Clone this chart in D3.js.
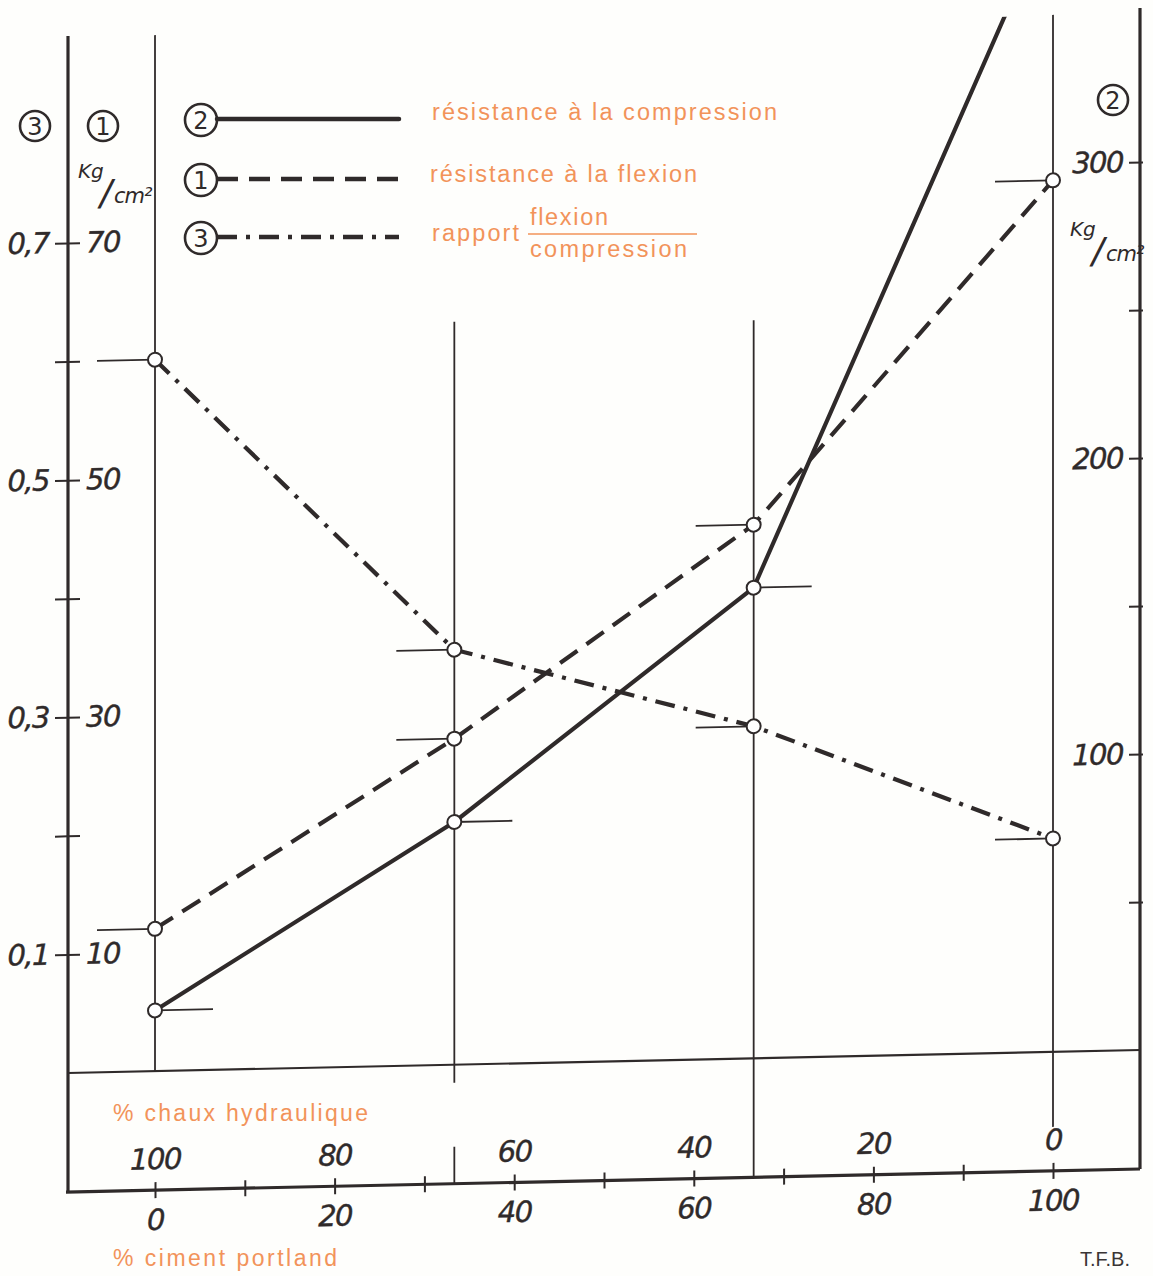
<!DOCTYPE html>
<html lang="fr">
<head>
<meta charset="UTF-8">
<title>Résistance compression / flexion</title>
<script src="https://d3js.org/d3.v7.min.js"></script>
<style>
  body { margin: 0; background: #fefefc; }
  svg { display: block; }
  .hand { font-family: "DejaVu Sans", sans-serif; font-style: italic; fill: #2f2a2a; }
  .orange { font-family: "Liberation Sans", Arial, sans-serif; fill: #f2935a; }
  .axis path, .axis line { stroke: #2f2a2a; }
</style>
</head>
<body>
<svg width="1153" height="1276"></svg>
<script>
// data (x = % ciment portland)
const ciment = [0, 100 / 3, 200 / 3, 100];
const flexion = [12, 27.5, 45, 73.5];          // kg/cm2, left scale
const compression = [20.5, 82, 159, 387];      // kg/cm2, right scale
const rapport = [0.60, 0.35, 0.28, 0.18];      // flexion / compression

const ratioTicks = [0.1, 0.2, 0.3, 0.4, 0.5, 0.6, 0.7];
const ratioLabels = [0.1, 0.3, 0.5, 0.7];
const kgLabels = [10, 30, 50, 70];
const compTicks = [50, 100, 150, 200, 250, 300];
const compLabels = [100, 200, 300];
const cimentTicks = d3.range(0, 101, 10);
const cimentLabels = [0, 20, 40, 60, 80, 100];

const legendNames = ["résistance à la compression", "résistance à la flexion", "rapport"];

const ink = "#2f2a2a";
const svg = d3.select("svg");
svg.append("rect").attr("width", 1153).attr("height", 1276).attr("fill", "#fefefc");

const x0 = 68, x1 = 1140, yZero = 1073, yAxisBottom = 1192;

const x = d3.scaleLinear().domain([0, 100]).range([155, 1053]);
const yKg = d3.scaleLinear().domain([0, 70]).range([yZero, 243]);
const yRatio = d3.scaleLinear().domain([0, 0.7]).range([yZero, 243]);
const yComp = d3.scaleLinear().domain([0, 300]).range([yZero, 185]);

// the scanned sheet is slightly sheared: horizontals drop to the left
const g = svg.append("g")
    .attr("transform", `translate(${x0},0) skewY(-1.229) translate(${-x0},0)`);

g.append("clipPath").attr("id", "clip")
  .append("rect").attr("x", 0).attr("y", 37).attr("width", 1153).attr("height", 1300);

// frame lines
const thin = 1.8;
g.append("line").attr("x1", x0).attr("x2", x1).attr("y1", yZero).attr("y2", yZero)
  .attr("stroke", ink).attr("stroke-width", 2.2);
g.append("line").attr("x1", x0).attr("x2", x0).attr("y1", 36).attr("y2", yAxisBottom)
  .attr("stroke", ink).attr("stroke-width", 3.2);
g.append("line").attr("x1", x1).attr("x2", x1).attr("y1", 31).attr("y2", yAxisBottom)
  .attr("stroke", ink).attr("stroke-width", 3.2);

// vertical guides at the test mixes
const guides = [[37, yZero], [330, 1091], [335, yAxisBottom], [36, 1148]];
ciment.forEach((c, i) => {
  g.append("line").attr("x1", x(c)).attr("x2", x(c))
    .attr("y1", guides[i][0]).attr("y2", guides[i][1])
    .attr("stroke", ink).attr("stroke-width", thin);
});
g.append("line").attr("x1", x(ciment[1])).attr("x2", x(ciment[1]))
  .attr("y1", 1155).attr("y2", yAxisBottom).attr("stroke", ink).attr("stroke-width", thin);

// left axis: ratio on the left side, kg/cm2 on the right side
const ratioAxis = g.append("g").attr("class", "axis").attr("transform", `translate(${x0},0)`)
  .call(d3.axisLeft(yRatio).tickValues(ratioTicks).tickSize(13).tickPadding(6)
    .tickFormat(d => ratioLabels.some(v => Math.abs(v - d) < 1e-6) ? d3.format(".1f")(d).replace(".", ",") : ""));
const kgAxis = g.append("g").attr("class", "axis").attr("transform", `translate(${x0},0)`)
  .call(d3.axisRight(yKg).tickValues(ratioTicks.map(d => Math.round(d * 100))).tickSize(12).tickPadding(6)
    .tickFormat(d => kgLabels.includes(d) ? d : ""));

// right axis: compression
const compAxis = g.append("g").attr("class", "axis").attr("transform", `translate(${x1},0)`)
  .call(d3.axisLeft(yComp).tickValues(compTicks).tickSize(11).tickPadding(6)
    .tickFormat(d => compLabels.includes(d) ? d : ""));
compAxis.selectAll(".tick line").attr("x1", 3);

// bottom axis: % ciment below, % chaux above
const bottomAxis = g.append("g").attr("class", "axis").attr("transform", `translate(0,${yAxisBottom})`)
  .call(d3.axisBottom(x).tickValues(cimentTicks).tickSize(8).tickPadding(11)
    .tickFormat(d => cimentLabels.includes(d) ? d : ""));
bottomAxis.selectAll(".tick line").attr("y1", -8);
const topAxis = g.append("g").attr("class", "axis").attr("transform", `translate(0,${yAxisBottom})`)
  .call(d3.axisTop(x).tickValues(cimentLabels).tickSize(0).tickPadding(21)
    .tickFormat(d => 100 - d));

[ratioAxis, kgAxis, compAxis, bottomAxis, topAxis].forEach(a => {
  a.select(".domain").remove();
  a.selectAll(".tick line").attr("stroke-width", 2);
  a.selectAll("text").attr("class", "hand").attr("font-size", 29).attr("fill", ink)
    .attr("letter-spacing", -1.5).attr("stroke", ink).attr("stroke-width", 0.4);
});
g.append("line").attr("x1", x0 - 2).attr("x2", x1).attr("y1", yAxisBottom).attr("y2", yAxisBottom)
  .attr("stroke", ink).attr("stroke-width", 3.2);

// series
const series = [
  { vals: compression, y: yComp, dash: null, side: 1, clip: true },
  { vals: flexion, y: yKg, dash: "21,11", side: -1 },
  { vals: rapport, y: yRatio, dash: "20,9,4,9", side: -1 }
];
const line = d3.line();

series.forEach(s => {
  const pts = s.vals.map((v, i) => [x(ciment[i]), s.y(v)]);
  // short horizontal reading marks
  g.selectAll(null).data(pts).join("line")
    .attr("x1", d => d[0]).attr("x2", d => d[0] + s.side * 58)
    .attr("y1", d => d[1]).attr("y2", d => d[1])
    .attr("stroke", ink).attr("stroke-width", thin);
  g.append("path").attr("d", line(pts))
    .attr("fill", "none").attr("stroke", ink).attr("stroke-width", 4.2)
    .attr("stroke-dasharray", s.dash)
    .attr("stroke-linecap", s.dash ? "butt" : "round")
    .attr("clip-path", s.clip ? "url(#clip)" : null);
});
series.forEach(s => {
  const pts = s.vals.map((v, i) => [x(ciment[i]), s.y(v)]).filter(d => d[1] > 37);
  g.selectAll(null).data(pts).join("circle")
    .attr("cx", d => d[0]).attr("cy", d => d[1]).attr("r", 7)
    .attr("fill", "#fff").attr("stroke", ink).attr("stroke-width", 2);
});

// axis captions
svg.append("text").attr("class", "orange").attr("x", 113).attr("y", 1121)
  .attr("font-size", 23).attr("textLength", 255).attr("lengthAdjust", "spacing")
  .text("% chaux hydraulique");
svg.append("text").attr("class", "orange").attr("x", 113).attr("y", 1266)
  .attr("font-size", 23).attr("textLength", 224).attr("lengthAdjust", "spacing")
  .text("% ciment portland");
svg.append("text").attr("x", 1080).attr("y", 1266)
  .attr("font-family", "Liberation Sans, Arial, sans-serif").attr("font-size", 20)
  .attr("fill", "#3a3535").text("T.F.B.");

// circled numbers
function badge(cx, cy, label, r = 15) {
  svg.append("circle").attr("cx", cx).attr("cy", cy).attr("r", r)
    .attr("fill", "none").attr("stroke", ink).attr("stroke-width", 2.6);
  svg.append("text").attr("x", cx).attr("y", cy + 8.5)
    .attr("font-family", "DejaVu Sans, sans-serif").attr("font-size", 24).attr("fill", ink)
    .attr("text-anchor", "middle").text(label);
}
badge(35, 126, "3");
badge(103, 126, "1");
badge(1113, 100, "2");

function unit(xp, yp) {
  svg.append("text").attr("class", "hand").attr("x", xp).attr("y", yp).attr("font-size", 20).text("Kg");
  svg.append("text").attr("class", "hand").attr("x", xp + 22).attr("y", yp + 27).attr("font-size", 36).text("/");
  svg.append("text").attr("class", "hand").attr("x", xp + 36).attr("y", yp + 25).attr("font-size", 21)
    .attr("letter-spacing", -1).text("cm²");
}
unit(78, 178);
unit(1070, 236);

// legend
const legendY = [120, 180, 238];
series.forEach((s, i) => {
  badge(201, legendY[i], ["2", "1", "3"][i], 16);
  svg.append("line").attr("x1", 217).attr("x2", 399)
    .attr("y1", legendY[i] - 1).attr("y2", legendY[i] - 1)
    .attr("stroke", ink).attr("stroke-width", 4.5)
    .attr("stroke-dasharray", s.dash).attr("stroke-linecap", s.dash ? "butt" : "round");
});
svg.append("text").attr("class", "orange").attr("x", 432).attr("y", 120)
  .attr("font-size", 23.5).attr("textLength", 345).attr("lengthAdjust", "spacing").text(legendNames[0]);
svg.append("text").attr("class", "orange").attr("x", 430).attr("y", 182)
  .attr("font-size", 23.5).attr("textLength", 267).attr("lengthAdjust", "spacing").text(legendNames[1]);
svg.append("text").attr("class", "orange").attr("x", 432).attr("y", 241)
  .attr("font-size", 23.5).attr("textLength", 87).attr("lengthAdjust", "spacing").text(legendNames[2]);
svg.append("text").attr("class", "orange").attr("x", 530).attr("y", 225)
  .attr("font-size", 23.5).attr("textLength", 78).attr("lengthAdjust", "spacing").text("flexion");
svg.append("line").attr("x1", 528).attr("x2", 697).attr("y1", 234).attr("y2", 234)
  .attr("stroke", "#f2935a").attr("stroke-width", 1.5);
svg.append("text").attr("class", "orange").attr("x", 530).attr("y", 257)
  .attr("font-size", 23.5).attr("textLength", 157).attr("lengthAdjust", "spacing").text("compression");
</script>
</body>
</html>
